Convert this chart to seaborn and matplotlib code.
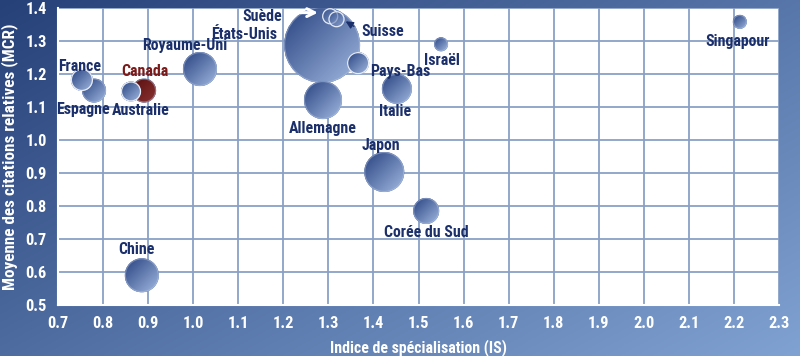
import numpy as np
import pandas as pd
import matplotlib
matplotlib.use("Agg")
import matplotlib.pyplot as plt
from matplotlib import font_manager
from matplotlib.patches import Circle
from matplotlib.transforms import IdentityTransform
import seaborn as sns

# data
pays = ["États-Unis", "Japon", "Allemagne", "Royaume-Uni", "Chine", "Italie",
        "Corée du Sud", "Espagne", "Canada", "France", "Pays-Bas", "Australie",
        "Suède", "Suisse", "Israël", "Singapour"]
indice_is = [1.286, 1.424, 1.288, 1.015, 0.886, 1.452,
             1.517, 0.780, 0.891, 0.753, 1.366, 0.862,
             1.304, 1.318, 1.550, 2.213]
mcr = [1.288, 0.903, 1.121, 1.215, 0.590, 1.155,
       0.785, 1.150, 1.150, 1.182, 1.233, 1.147,
       1.375, 1.366, 1.290, 1.358]
volume = [1444, 400, 361, 289, 289, 225,
          169, 144, 144, 121, 121, 100,
          64, 64, 49, 49]

x_ticks = [0.7, 0.8, 0.9, 1.0, 1.1, 1.2, 1.3, 1.4, 1.5, 1.6, 1.7, 1.8, 1.9, 2.0, 2.1, 2.2, 2.3]
y_ticks = [0.5, 0.6, 0.7, 0.8, 0.9, 1.0, 1.1, 1.2, 1.3, 1.4]

# label placement (text position, alignment)
label_pos = {
    "France": (0.749, 1.224, "center"),
    "Espagne": (0.755, 1.091, "center"),
    "Australie": (0.884, 1.088, "center"),
    "Canada": (0.893, 1.209, "center"),
    "Royaume-Uni": (0.982, 1.285, "center"),
    "Suède": (1.197, 1.373, "right"),
    "États-Unis": (1.186, 1.321, "right"),
    "Suisse": (1.421, 1.330, "center"),
    "Israël": (1.552, 1.242, "center"),
    "Pays-Bas": (1.459, 1.209, "center"),
    "Italie": (1.448, 1.085, "center"),
    "Allemagne": (1.288, 1.036, "center"),
    "Japon": (1.417, 0.982, "center"),
    "Corée du Sud": (1.517, 0.721, "center"),
    "Chine": (0.873, 0.667, "center"),
    "Singapour": (2.207, 1.300, "center"),
}
white_edge = ["France", "Suède", "Suisse", "Pays-Bas", "Australie"]

df = pd.DataFrame({"pays": pays, "IS": indice_is, "MCR": mcr, "volume": volume})
df = df.sort_values("volume", ascending=False).reset_index(drop=True)

sns.set_style("white")

# prefer a narrow font if one is installed, else plain Liberation Sans a bit smaller
names = {f.name for f in font_manager.fontManager.ttflist}
narrow = [n for n in ["Liberation Sans Narrow", "Roboto Condensed", "Open Sans Condensed",
                      "DejaVu Sans Condensed", "Noto Sans Condensed"] if n in names]
if narrow:
    plt.rcParams["font.family"] = [narrow[0], "DejaVu Sans"]
    fs = 11
else:
    plt.rcParams["font.family"] = ["Liberation Sans", "DejaVu Sans"]
    fs = 9.6
plt.rcParams["font.weight"] = "bold"

fig = plt.figure(figsize=(8, 3.56), dpi=100)

# gradient background
bg = fig.add_axes([0, 0, 1, 1], zorder=-10)
gx, gy = np.meshgrid(np.linspace(0, 1, 400), np.linspace(0, 1, 180))
t = np.clip(0.55 * gx + 0.45 * gy, 0, 1)
c0 = np.array([38, 64, 120]) / 255
c1 = np.array([128, 162, 210]) / 255
img = c0[None, None, :] * (1 - t[..., None]) + c1[None, None, :] * t[..., None]
bg.imshow(img, aspect="auto", extent=[0, 1, 0, 1], origin="upper")
bg.axis("off")

ax = fig.add_axes([0.0725, 0.1433, 0.9013, 0.8342])
ax.set_facecolor("white")
ax.set_xlim(0.7, 2.3)
ax.set_ylim(0.5, 1.4)

k_size = (2 * 38 * 0.72) ** 2 / 1444
sns.scatterplot(data=df, x="IS", y="MCR", size="volume",
                sizes=(df["volume"].min() * k_size, df["volume"].max() * k_size),
                color="#2b4785", edgecolor="none", linewidth=0,
                legend=False, ax=ax, zorder=2)
base_sizes = ax.collections[0].get_sizes()
ax.set_xlim(0.7, 2.3)
ax.set_ylim(0.5, 1.4)

# linear-gradient fill for each bubble, clipped to its circle
ramp = np.linspace(0, 1, 64)
rx_, ry_ = np.meshgrid(ramp, ramp)
g = np.clip((rx_ + ry_) / 2, 0, 1)  # 0 top-left, 1 bottom-right
px_x = ax.transData.transform((1.0, 0))[0] - ax.transData.transform((0.0, 0))[0]
px_y = ax.transData.transform((0, 1.0))[1] - ax.transData.transform((0, 0.0))[1]
for i, row in df.iterrows():
    if row["pays"] == "Canada":
        dark, light = np.array([88, 14, 14]) / 255, np.array([142, 52, 52]) / 255
    else:
        dark, light = np.array([40, 66, 128]) / 255, np.array([160, 184, 224]) / 255
    s = base_sizes[i] if len(base_sizes) > 1 else base_sizes[0]
    r_px = np.sqrt(s) / 2 * fig.dpi / 72
    cx, cy = ax.transData.transform((row["IS"], row["MCR"]))
    fill = dark[None, None, :] * (1 - g[..., None]) + light[None, None, :] * g[..., None]
    alpha = 0.6 if row["pays"] in ("Suède", "Suisse") else 1.0
    rx, ry = r_px / px_x, r_px / px_y
    im = ax.imshow(fill, extent=[row["IS"] - rx, row["IS"] + rx, row["MCR"] - ry, row["MCR"] + ry],
                   origin="upper", aspect="auto", zorder=3 + i, alpha=alpha,
                   interpolation="bilinear")
    im.set_clip_path(Circle((cx, cy), r_px, transform=IdentityTransform()))
    if row["pays"] in white_edge:
        ec, ea = "#eef2f9", 0.95
    else:
        ec, ea = "#b8c8e4", 0.45
    edge = Circle((cx, cy), r_px - 0.5, fill=False, edgecolor=ec,
                  linewidth=0.9, alpha=ea, zorder=3 + i + 0.5)
    ax.add_artist(edge)
    edge.set_transform(IdentityTransform())

# labels
for name, (lx, ly, ha) in label_pos.items():
    color = "#7a1a1a" if name == "Canada" else "#1b2f6b"
    ax.text(lx, ly, name, ha=ha, va="center", fontsize=fs + 0.4, fontweight="bold",
            color=color, zorder=50)

ax.annotate("", xy=(1.283, 1.386), xytext=(1.208, 1.386),
            arrowprops=dict(arrowstyle="->", color="white", lw=2.2,
                            mutation_scale=14), zorder=60)
ax.annotate("", xy=(1.333, 1.364), xytext=(1.362, 1.340),
            arrowprops=dict(arrowstyle="-|>", color="#1b2f6b", lw=1.0,
                            mutation_scale=11), zorder=60)

ax.set_xlim(0.7, 2.3)
ax.set_ylim(0.5, 1.4)
ax.set_xticks(x_ticks)
ax.set_yticks(y_ticks)
ax.set_xticklabels([f"{v:.1f}" for v in x_ticks])
ax.set_yticklabels([f"{v:.1f}" for v in y_ticks])
ax.grid(True, color="#8aa0c6", linewidth=1.3, zorder=0)
ax.set_axisbelow(True)
for side in ["top", "right"]:
    ax.spines[side].set_visible(False)
for side in ["left", "bottom"]:
    ax.spines[side].set_color("white")
    ax.spines[side].set_linewidth(1.5)
ax.tick_params(axis="both", colors="white", length=4, width=1.2, direction="out",
               labelsize=fs + 0.8, pad=4)
for lab in ax.get_xticklabels() + ax.get_yticklabels():
    lab.set_fontweight("bold")

ax.set_xlabel("Indice de spécialisation (IS)", color="white", fontsize=fs + 0.4,
              fontweight="bold", labelpad=6)
ax.set_ylabel("Moyenne des citations relatives (MCR)", color="white", fontsize=fs + 1.3,
              fontweight="bold", labelpad=5)

fig.savefig("out.png", dpi=100)
